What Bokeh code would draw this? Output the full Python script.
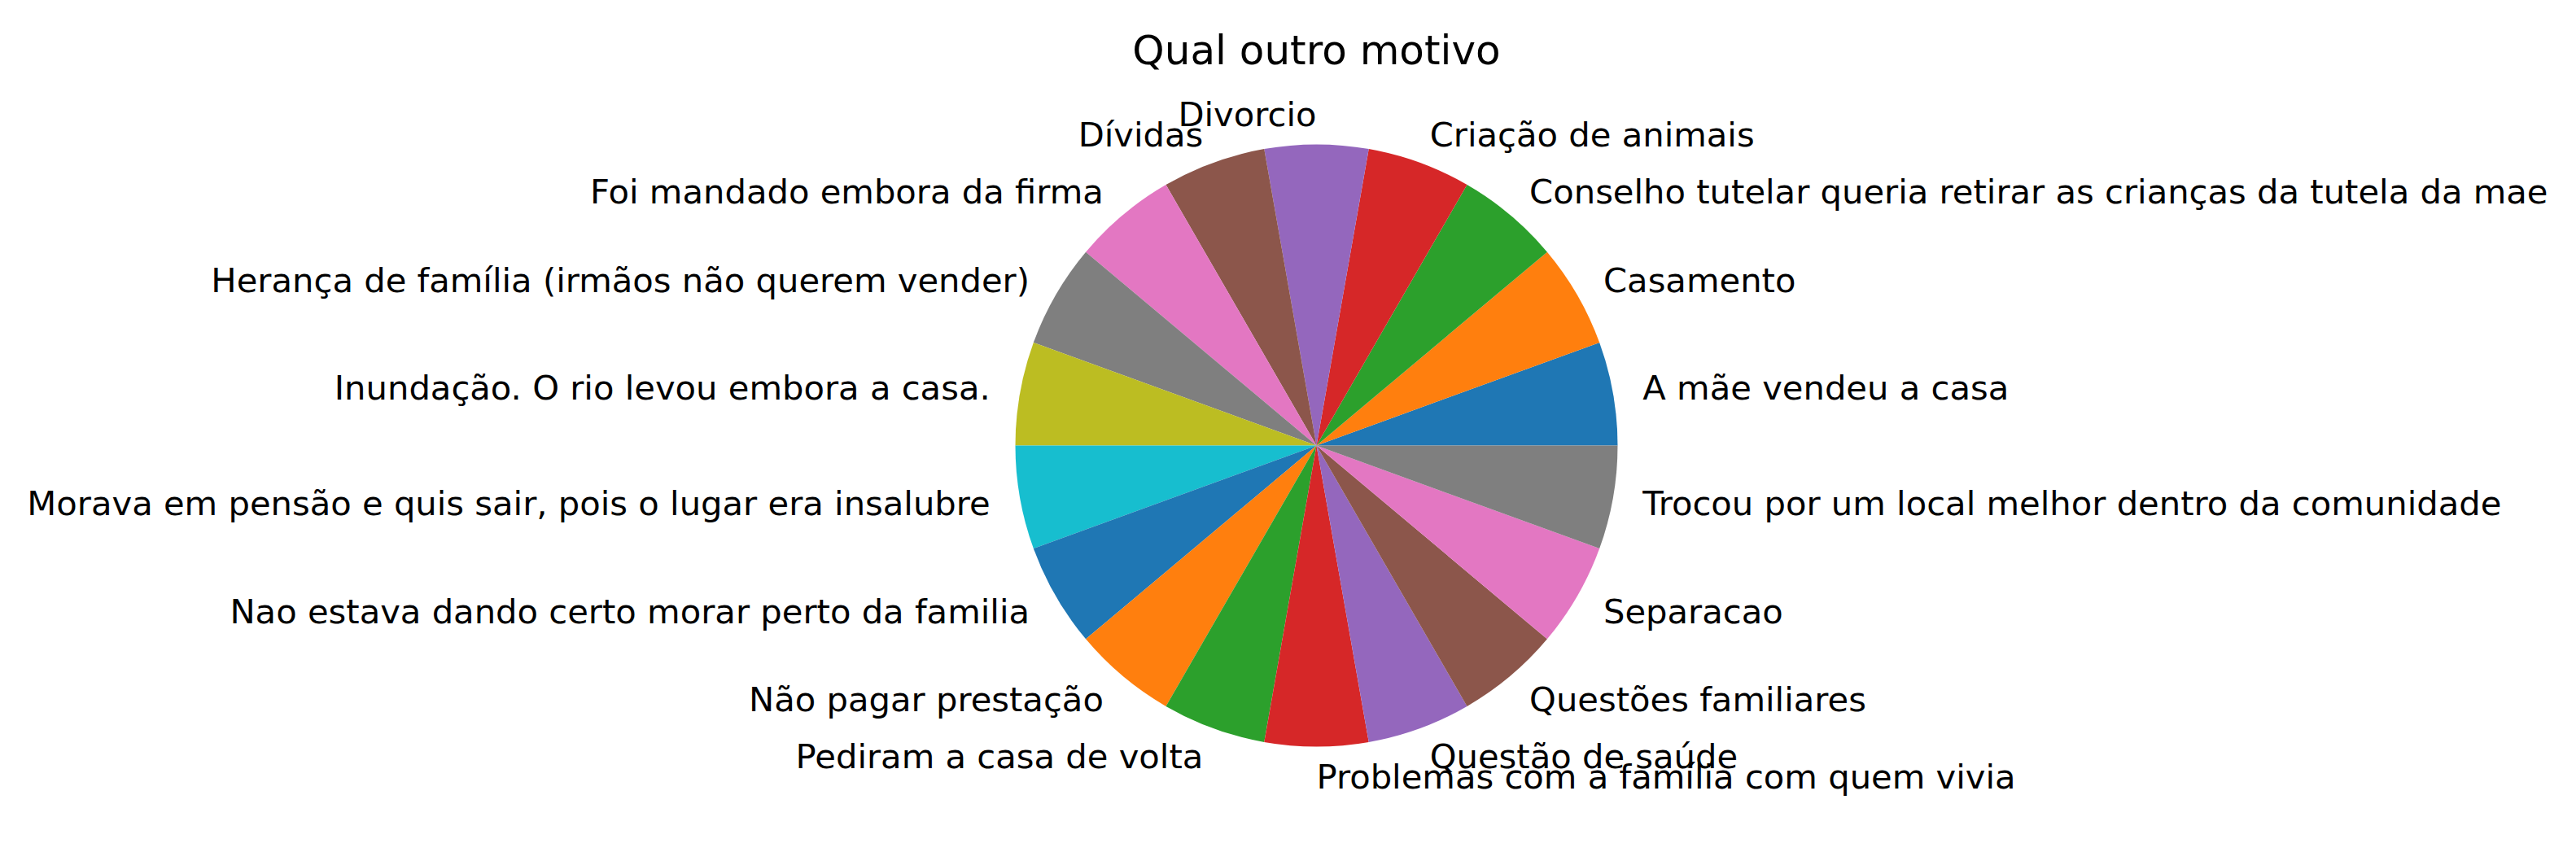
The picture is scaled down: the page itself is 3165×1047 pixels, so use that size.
import math
import numpy as np
from bokeh.plotting import figure
from bokeh.models import ColumnDataSource, Range1d
from bokeh.core.properties import value
from bokeh.embed import file_html
from bokeh.resources import INLINE

title = "Qual outro motivo"
labels = [
    "A mãe vendeu a casa",
    "Casamento",
    "Conselho tutelar queria retirar as crianças da tutela da mae",
    "Criação de animais",
    "Divorcio",
    "Dívidas",
    "Foi mandado embora da firma",
    "Herança de família (irmãos não querem vender)",
    "Inundação. O rio levou embora a casa.",
    "Morava em pensão e quis sair, pois o lugar era insalubre",
    "Nao estava dando certo morar perto da familia",
    "Não pagar prestação",
    "Pediram a casa de volta",
    "Problemas com a família com quem vivia",
    "Questão de saúde",
    "Questões familiares",
    "Separacao",
    "Trocou por um local melhor dentro da comunidade",
]
counts = [1] * 18
palette = ["#1f77b4", "#ff7f0e", "#2ca02c", "#d62728", "#9467bd",
           "#8c564b", "#e377c2", "#7f7f7f", "#bcbd22", "#17becf"]

W, H = 3149, 1031
R_PX = 370.0
CX, CY = 1617.0, 547.0  # pie centre in plot pixels (from left, from top)

# wedge angles, accumulated in single-precision fractions as a classic pie routine does
vals = np.asarray(counts, dtype=np.float32)
fracs = vals / vals.sum()
starts, ends, lx, ly, align = [], [], [], [], []
t1 = 0.0
for f in fracs:
    t2 = float(t1) + float(f)
    tm = 2 * np.pi * 0.5 * (t1 + t2)
    starts.append(2 * np.pi * t1)
    ends.append(2 * np.pi * t2)
    xt = 1.1 * math.cos(tm)
    yt = 1.1 * math.sin(tm)
    lx.append(xt)
    ly.append(yt)
    align.append("left" if xt > 0 else "right")
    t1 = t2
colors = [palette[i % len(palette)] for i in range(len(labels))]

src = ColumnDataSource(dict(start=starts, end=ends, color=colors, label=labels,
                            lx=lx, ly=ly, align=align))

p = figure(width=W, height=H, output_backend="svg", toolbar_location=None,
           x_range=Range1d(-CX / R_PX, (W - CX) / R_PX),
           y_range=Range1d(-(H - CY) / R_PX, CY / R_PX),
           min_border=0, outline_line_color=None)
p.axis.visible = False
p.grid.visible = False
p.background_fill_color = "white"
p.border_fill_color = "white"

p.wedge(x=0, y=0, radius=1.0, start_angle="start", end_angle="end",
        fill_color="color", line_color=None, direction="anticlock", source=src)

p.text(x="lx", y="ly", text="label", text_align="align", text_baseline="middle",
       text_font=value("DejaVu Sans"), text_font_size="41.7px", text_color="black",
       source=src)

p.text(x=[0], y=[(CY - 69 + 8) / R_PX], text=[title], text_align="center",
       text_baseline="alphabetic", text_font=value("DejaVu Sans"),
       text_font_size="50px", text_color="black")

open("out.html", "w").write(file_html(p, INLINE))
